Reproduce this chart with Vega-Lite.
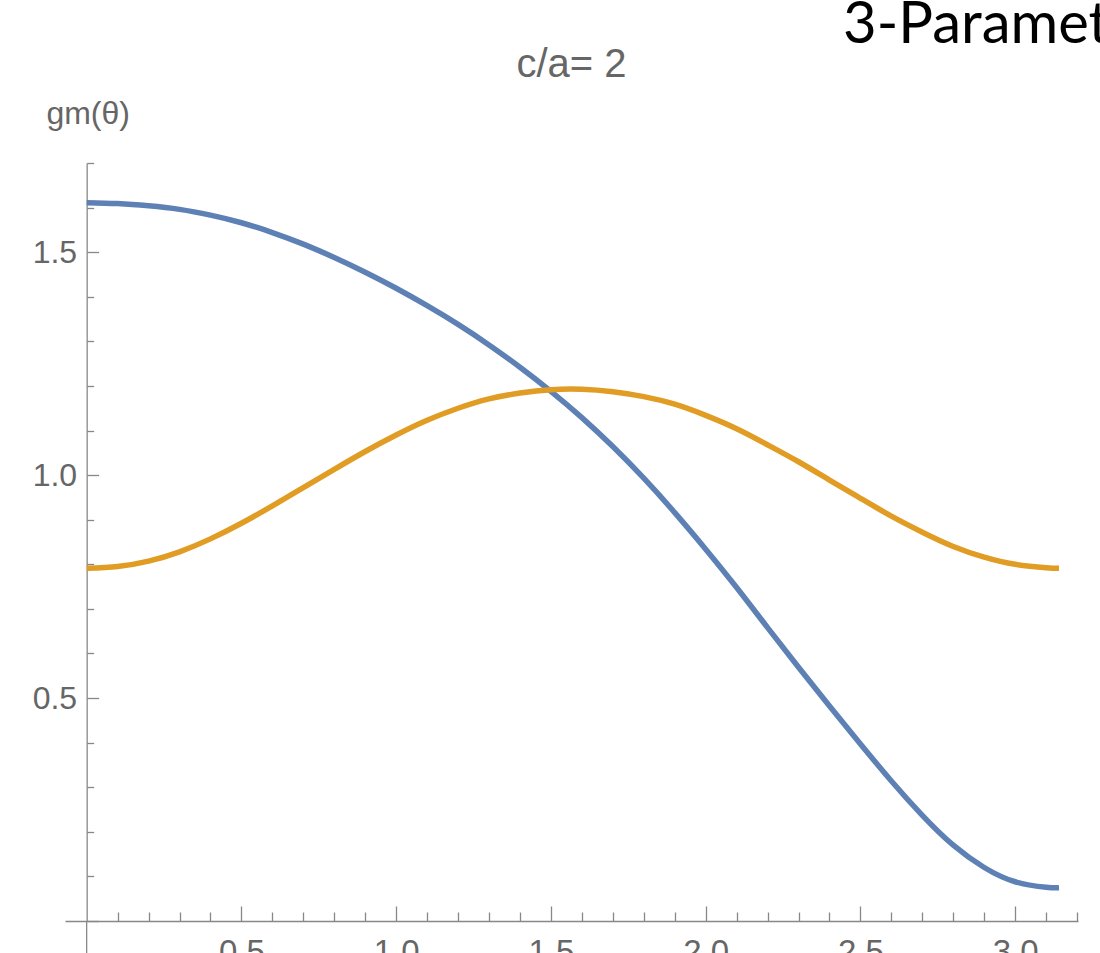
{
  "$schema": "https://vega.github.io/schema/vega-lite/v6.json",
  "width": 1013,
  "height": 758,
  "autosize": "none",
  "padding": {"left": 65, "top": 163, "right": 22, "bottom": 32},
  "background": "white",
  "config": {"view": {"stroke": null}},
  "layer": [
    {
      "data": {
        "values": [
          {"theta": 0, "gm": 1.611, "series": "blue"},
          {"theta": 0.1, "gm": 1.609, "series": "blue"},
          {"theta": 0.2, "gm": 1.604, "series": "blue"},
          {"theta": 0.3, "gm": 1.596, "series": "blue"},
          {"theta": 0.4, "gm": 1.583, "series": "blue"},
          {"theta": 0.5, "gm": 1.566, "series": "blue"},
          {"theta": 0.6, "gm": 1.544, "series": "blue"},
          {"theta": 0.7, "gm": 1.518, "series": "blue"},
          {"theta": 0.8, "gm": 1.488, "series": "blue"},
          {"theta": 0.9, "gm": 1.455, "series": "blue"},
          {"theta": 1.0, "gm": 1.419, "series": "blue"},
          {"theta": 1.1, "gm": 1.380, "series": "blue"},
          {"theta": 1.2, "gm": 1.338, "series": "blue"},
          {"theta": 1.3, "gm": 1.292, "series": "blue"},
          {"theta": 1.4, "gm": 1.242, "series": "blue"},
          {"theta": 1.5, "gm": 1.188, "series": "blue"},
          {"theta": 1.6, "gm": 1.129, "series": "blue"},
          {"theta": 1.7, "gm": 1.064, "series": "blue"},
          {"theta": 1.8, "gm": 0.993, "series": "blue"},
          {"theta": 1.9, "gm": 0.916, "series": "blue"},
          {"theta": 2.0, "gm": 0.834, "series": "blue"},
          {"theta": 2.1, "gm": 0.748, "series": "blue"},
          {"theta": 2.2, "gm": 0.658, "series": "blue"},
          {"theta": 2.3, "gm": 0.569, "series": "blue"},
          {"theta": 2.4, "gm": 0.482, "series": "blue"},
          {"theta": 2.5, "gm": 0.397, "series": "blue"},
          {"theta": 2.6, "gm": 0.314, "series": "blue"},
          {"theta": 2.7, "gm": 0.237, "series": "blue"},
          {"theta": 2.8, "gm": 0.170, "series": "blue"},
          {"theta": 2.9, "gm": 0.120, "series": "blue"},
          {"theta": 3.0, "gm": 0.088, "series": "blue"},
          {"theta": 3.1, "gm": 0.0755, "series": "blue"},
          {"theta": 3.1416, "gm": 0.0745, "series": "blue"},
          {"theta": 0, "gm": 0.791, "series": "orange"},
          {"theta": 0.1, "gm": 0.795, "series": "orange"},
          {"theta": 0.2, "gm": 0.807, "series": "orange"},
          {"theta": 0.3, "gm": 0.828, "series": "orange"},
          {"theta": 0.4, "gm": 0.857, "series": "orange"},
          {"theta": 0.5, "gm": 0.892, "series": "orange"},
          {"theta": 0.6, "gm": 0.931, "series": "orange"},
          {"theta": 0.7, "gm": 0.972, "series": "orange"},
          {"theta": 0.8, "gm": 1.013, "series": "orange"},
          {"theta": 0.9, "gm": 1.053, "series": "orange"},
          {"theta": 1.0, "gm": 1.090, "series": "orange"},
          {"theta": 1.1, "gm": 1.123, "series": "orange"},
          {"theta": 1.2, "gm": 1.150, "series": "orange"},
          {"theta": 1.3, "gm": 1.171, "series": "orange"},
          {"theta": 1.4, "gm": 1.184, "series": "orange"},
          {"theta": 1.5, "gm": 1.1915, "series": "orange"},
          {"theta": 1.6, "gm": 1.1925, "series": "orange"},
          {"theta": 1.7, "gm": 1.187, "series": "orange"},
          {"theta": 1.8, "gm": 1.176, "series": "orange"},
          {"theta": 1.9, "gm": 1.159, "series": "orange"},
          {"theta": 2.0, "gm": 1.134, "series": "orange"},
          {"theta": 2.1, "gm": 1.104, "series": "orange"},
          {"theta": 2.2, "gm": 1.068, "series": "orange"},
          {"theta": 2.3, "gm": 1.030, "series": "orange"},
          {"theta": 2.4, "gm": 0.989, "series": "orange"},
          {"theta": 2.5, "gm": 0.948, "series": "orange"},
          {"theta": 2.6, "gm": 0.908, "series": "orange"},
          {"theta": 2.7, "gm": 0.872, "series": "orange"},
          {"theta": 2.8, "gm": 0.840, "series": "orange"},
          {"theta": 2.9, "gm": 0.816, "series": "orange"},
          {"theta": 3.0, "gm": 0.800, "series": "orange"},
          {"theta": 3.1, "gm": 0.7925, "series": "orange"},
          {"theta": 3.1416, "gm": 0.791, "series": "orange"}
        ]
      },
      "mark": {"type": "line", "strokeWidth": 5.5, "interpolate": "natural", "clip": false},
      "encoding": {
        "x": {
          "field": "theta",
          "type": "quantitative",
          "scale": {"domain": [-0.07, 3.203], "nice": false, "zero": false},
          "axis": {
            "orient": "bottom",
            "title": null,
            "grid": false,
            "tickCount": 200,
            "values": [0.1, 0.2, 0.3, 0.4, 0.5, 0.6, 0.7, 0.8, 0.9, 1.0, 1.1, 1.2, 1.3, 1.4, 1.5, 1.6, 1.7, 1.8, 1.9, 2.0, 2.1, 2.2, 2.3, 2.4, 2.5, 2.6, 2.7, 2.8, 2.9, 3.0, 3.1, 3.2],
            "domainColor": "#888888",
            "domainWidth": 1.3,
            "tickColor": "#888888",
            "tickWidth": 1.3,
            "tickSize": {"condition": {"test": "abs(datum.value*2-round(datum.value*2))<0.000001", "value": -15}, "value": -9},
            "labelExpr": "abs(datum.value*2-round(datum.value*2))<0.000001 ? format(datum.value,'.1f') : ''",
            "labelPadding": 30,
            "labelFont": "Liberation Sans, Arial, sans-serif",
            "labelFontSize": 33,
            "labelColor": "#666666",
            "labelBaseline": "top",
            "labelFlush": false,
            "labelOverlap": false
          }
        },
        "y": {
          "field": "gm",
          "type": "quantitative",
          "scale": {"domain": [0, 1.7], "nice": false, "zero": false},
          "axis": {
            "orient": "left",
            "offset": -21.67,
            "grid": false,
            "tickCount": 200,
            "values": [0, 0.1, 0.2, 0.3, 0.4, 0.5, 0.6, 0.7, 0.8, 0.9, 1.0, 1.1, 1.2, 1.3, 1.4, 1.5, 1.6, 1.7],
            "domainColor": "#888888",
            "domainWidth": 1.3,
            "tickColor": "#888888",
            "tickWidth": 1.3,
            "tickSize": {"condition": {"test": "abs(datum.value*2-round(datum.value*2))<0.000001", "value": -12}, "value": -7},
            "labelExpr": "datum.value > 0.01 && abs(datum.value*2-round(datum.value*2))<0.000001 ? format(datum.value,'.1f') : ''",
            "labelPadding": 22,
            "labelFont": "Liberation Sans, Arial, sans-serif",
            "labelFontSize": 32,
            "labelColor": "#666666",
            "labelBaseline": "middle",
            "labelFlush": false,
            "labelOverlap": false,
            "title": "gm(θ)",
            "titleAngle": 0,
            "titleX": 1,
            "titleY": -40,
            "titleAlign": "center",
            "titleBaseline": "alphabetic",
            "titleFont": "Liberation Sans, Arial, sans-serif",
            "titleFontSize": 32,
            "titleFontWeight": "normal",
            "titleColor": "#666666"
          }
        },
        "color": {
          "field": "series",
          "type": "nominal",
          "scale": {"domain": ["blue", "orange"], "range": ["#5E81B5", "#E19C24"]},
          "legend": null
        }
      }
    },
    {
      "data": {"values": [{"part": "axis-extension"}]},
      "mark": {"type": "rule", "color": "#888888", "strokeWidth": 1.3, "clip": false},
      "encoding": {
        "x": {"datum": 0},
        "y": {"datum": 0},
        "y2": {"datum": -0.08}
      }
    },
    {
      "data": {"values": [{"label": "c/a= 2"}]},
      "mark": {"type": "text", "font": "Liberation Sans, Arial, sans-serif", "fontSize": 40, "align": "center", "baseline": "alphabetic", "color": "#666666", "clip": false},
      "encoding": {
        "x": {"datum": 1.5665},
        "y": {"datum": 1.893},
        "text": {"field": "label"}
      }
    },
    {
      "data": {"values": [{"label": "3-Parameter"}]},
      "mark": {"type": "text", "font": "Lato", "fontSize": 58, "align": "left", "baseline": "alphabetic", "color": "black", "clip": false},
      "encoding": {
        "x": {"datum": 2.444},
        "y": {"datum": 1.9686},
        "text": {"field": "label"}
      }
    }
  ]
}
